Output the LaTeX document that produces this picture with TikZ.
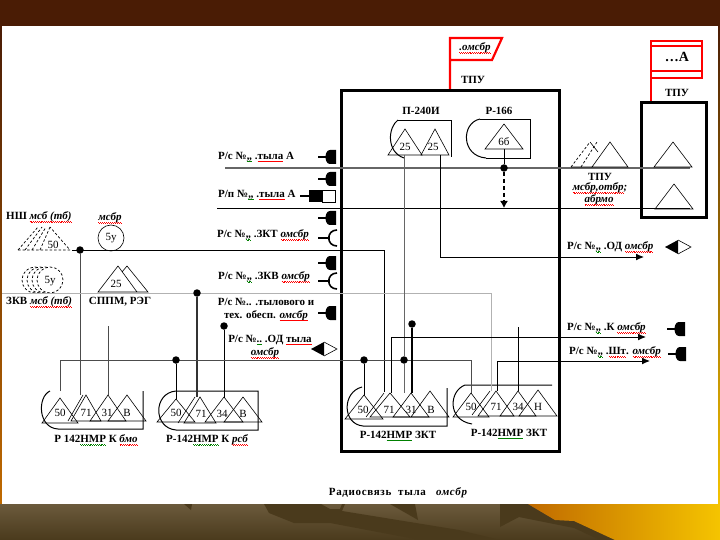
\documentclass[tikz,border=0pt]{standalone}
\usepackage{fontspec}
\setmainfont{Liberation Serif}
\usetikzlibrary{arrows.meta}
\definecolor{bandbrown}{HTML}{4A1C05}
\definecolor{darkolive}{HTML}{4A3A1C}
\definecolor{liteolive}{HTML}{6B5A3C}
\definecolor{goldlo}{HTML}{C06A00}
\definecolor{goldhi}{HTML}{F5C400}
\newcommand{\wav}[2]{\leavevmode\sbox0{#2}\rlap{\usebox0}\hbox to\wd0{\color{#1}\xleaders\hbox{\rule[-1.6pt]{0.9pt}{0.45pt}\rule[-2.2pt]{0.9pt}{0.45pt}}\hfill}}
\newcommand{\rw}[1]{\wav{red}{#1}}
\newcommand{\gw}[1]{\wav{green!50!black}{#1}}
\tikzset{
 lab/.style={font=\fontsize{11}{13}\selectfont\bfseries,inner sep=0pt,align=center},
 num/.style={font=\fontsize{11}{12}\selectfont,inner sep=0pt},
 dotn/.style={circle,fill=black,inner sep=0pt,minimum size=7.5pt},
 wire/.style={line width=1pt},
 pale/.style={line width=0.8pt,gray!60},
 ant/.style={line width=0.6pt},
 dsh/.style={line width=0.7pt,dash pattern=on 2.5pt off 2pt},
 arr/.style={-{Latex[length=8pt,width=7pt]},line width=1pt},
 phone/.pic={\draw[line width=1.3pt] (-9,0)--(-1,0);
  \fill (9,-7)--(3,-7) .. controls (-3,-7) and (-3,7) .. (3,7)--(9,7)--cycle;},
 jack/.pic={\draw[line width=1.3pt] (-11,0)--(1,0);
  \draw[line width=1.6pt] (8,-8) .. controls (-3,-8) and (-3,8) .. (8,8);},
 keyb/.pic={\draw[line width=1.3pt] (-9,0)--(0,0);
  \fill (0,-6) rectangle (13,6); \draw[line width=0.7pt] (13,-6) rectangle (26,6);},
 rombn/.pic={\fill (-13,0)--(0,-7)--(0,7)--cycle;
  \draw[line width=0.6pt] (0,-7)--(13,0)--(0,7);}
}
\newcommand{\tri}[4]{\draw[ant] (#1,#2)--(#3,#4)--(2*#1-#3,#4)--cycle;}
\begin{document}
\begin{tikzpicture}[x=1pt,y=-1pt]
\useasboundingbox (0,0) rectangle (720,540);
% background
\fill[bandbrown] (0,0) rectangle (720,26);
\shade[top color=bandbrown,bottom color=goldlo] (0,26) rectangle (2,504);
\shade[top color=bandbrown,bottom color=goldhi] (718,26) rectangle (720,504);
\shade[top color=liteolive,bottom color=darkolive] (0,504) rectangle (720,540);
\fill[darkolive] (184,504)--(192,504)--(191,510)--cycle;
\fill[darkolive] (264,504)--(321,504)--(330,509)--(340,509)--(342,504)--(345,504)--(342,511)--(459,530)--(500,540)--(420,540)--(330,523)--(294,523)--(269,513)--cycle;
\fill[darkolive] (390,504)--(415,504)--(418,520)--cycle;
\fill[darkolive] (500,504)--(528,504)--(555,520)--(574,521)--(615,540)--(600,540)--(574,528)--(519,517)--(500,527)--cycle;
\shade[left color=goldlo,right color=goldhi] (528,504)--(720,504)--(720,540)--(615,540)--(574,521)--(555,520)--cycle;
\fill[white] (2,26) rectangle (718,504);

% flags
\coordinate (flagA) at (450,38); \coordinate (flagAb) at (450,91);
\coordinate (flagB) at (651,41); \coordinate (flagBb) at (651,103);
\draw[red,line width=2.2pt] (flagAb)--(flagA)--(502,38)--(492,60)--(450,60);
\draw[red,line width=2.2pt] (flagBb)--(flagB)--(702,41)--(702,78)--(651,78) (651,46)--(702,46) (651,71)--(702,71);
\node[lab] (fa) at (475,48) {\itshape\rw{.омсбр}};
\node[lab] (fb) at (677,57) {\fontsize{14}{15}\selectfont …А};
\node[lab] (tpua) at (473,80) {ТПУ};
\node[lab] (tpub) at (677,93) {ТПУ};

% main boxes
\draw[line width=3pt] (341,91) rectangle (559,451);
\draw[line width=3pt] (641,103) rectangle (706,218);
\node[lab] (p240) at (421,111) {П-240И};
\node[lab] (r166) at (499,111) {Р-166};

% stations at the top of the box
\draw[line width=0.8pt] (398,120)--(451,120)--(451,157);
\draw[line width=1pt] (398,120) .. controls (388,127) and (386,152) .. (404,158);
\tri{405}{129}{388}{155}
\tri{435}{129}{421}{155}
\node[num] (s25a) at (405,147) {25};
\node[num] (s25b) at (433,147) {25};
\draw[line width=0.8pt] (480,119)--(530,119)--(530,158)--(486,158);
\draw[line width=1pt] (480,119) .. controls (461,123) and (461,156) .. (486,158);
\tri{504}{124}{485}{149}
\node[num] (s66) at (504,142) {6б};

% long horizontal lines
\coordinate (h1a) at (225,168); \coordinate (h1b) at (690,168);
\coordinate (h2a) at (217,209); \coordinate (h2b) at (690,209);
\draw[line width=1.1pt,black!60] (h1a)--(h1b);
\draw[wire] (h2a)--(h2b);
\node[dotn] (drop) at (504,168) {};
\coordinate (rtop) at (504,149); \coordinate (rend) at (504,208);
\draw[wire] (rtop)--(drop);
\draw[line width=1.3pt,dash pattern=on 4pt off 3pt,-{Latex[length=7pt,width=8pt]}] (drop)--(rend);

% left group
\foreach \xa/\xb in {18/38,25/42,32/46,40/50} \draw[dsh] (\xa,250)--(\xb,227);
\draw[dsh] (18,250)--(70,250)--(50,227);
\node[num] (n50) at (53,245) {50};
\node[draw,circle,line width=0.6pt,minimum size=26pt,inner sep=0pt,font=\fontsize{11}{12}\selectfont] (c5a) at (111,238) {5у};
\foreach \xc in {35,40,45,50} \draw[dsh,fill=white] (\xc,280) circle[radius=13pt];
\node[num] (n5b) at (50,281) {5у};
\draw[ant] (98,292)--(118,266)--(137,292)--cycle (122,272)--(127,266)--(148,292)--(137,292);
\node[num] (n25) at (116,284) {25};
\node[lab,anchor=west] (nsh) at (6,217) {НШ \itshape\rw{мсб (тб)}};
\node[lab] (omsb) at (110,218) {\itshape\rw{мсбр}};
\node[lab,anchor=west] (zkv) at (6,302) {ЗКВ \itshape\rw{мсб (тб)}};
\node[lab] (sppm) at (120,302) {СППМ, РЭГ};

% left labels and sets
\node[lab,anchor=west] (l1) at (218,157) {Р/с №\gw{,,} .\rw{тыла} А};
\pic at (327,157) {phone};
\pic at (327,179) {phone};
\node[lab,anchor=west] (l2) at (218,195) {Р/п №\gw{,,} .\rw{тыла} А};
\pic at (309,196) {keyb};
\pic at (327,218) {phone};
\node[lab,anchor=west] (l3) at (217,235) {Р/с №\gw{,,} .ЗКТ \itshape\rw{омсбр}};
\pic at (329,238) {jack};
\pic at (327,263) {phone};
\node[lab,anchor=west] (l4) at (218,277) {Р/с №\gw{,,} .ЗКВ \itshape\rw{омсбр}};
\pic at (329,281) {jack};
\node[lab] (l5) at (266,309.5) {Р/с №.. .тылового и\\тех. обесп. \itshape\rw{омсбр}};
\pic at (327,313) {phone};
\node[lab] (l6a) at (270,340) {Р/с №\gw{..} .ОД \rw{тыла}};
\node[lab] (l6b) at (265,353) {\itshape\rw{омсбр}};
\pic at (324,349) {rombn};

% middle triangles
\draw[dsh] (571,167)--(590,142) (581,167)--(597,142);
\draw[ant] (571,167)--(592,167) (590,142)--(598,152);
\tri{610}{142}{592}{167}
\node[lab] (tpuc) at (600,177) {ТПУ};
\node[lab] (mcbr) at (600,188) {\itshape\rw{мсбр,отбр};};
\node[lab] (abrm) at (599,200) {\itshape\rw{абрмо}};
\tri{673}{142}{654}{167}
\tri{674}{184}{655}{209}

% right labels
\node[lab,anchor=west] (r1) at (567,247) {Р/с №\gw{,,} .ОД \itshape\rw{омсбр}};
\pic at (678,247) {rombn};
\node[lab,anchor=west] (r2) at (567,328) {Р/с №\gw{,,} .К \itshape\rw{омсбр}};
\pic at (676,329) {phone};
\node[lab,anchor=west] (r3) at (569,352) {Р/с №\gw{,,} .\rw{Шт}. \itshape\rw{омсбр}};
\pic at (677,354) {phone};

% radio sets in the lower row
\draw[line width=1pt] (50,391) .. controls (37,397) and (38,428) .. (58,429)--(143,429)--(143,391);
\tri{60}{398}{42}{423}
\draw[ant] (68,421)--(83,395);
\tri{86}{395}{71}{421}
\tri{108}{395}{90}{421}
\tri{127}{395}{108}{421}
\node[num] (a50) at (60,413) {50};
\node[num] (a71) at (86,413) {71};
\node[num] (a31) at (107,413) {31};
\node[num] (ab) at (127,413) {В};
\node[lab] (capa) at (96,440) {Р 142\gw{НМР} К \itshape\rw{бмо}};

\draw[line width=1pt] (176,391) .. controls (153,393) and (153,428) .. (176,430)--(258,430)--(258,391)--cycle;
\tri{176}{399}{157}{422}
\draw[ant] (178,423)--(195,397);
\tri{200}{397}{184}{423}
\tri{224}{397}{205}{422}
\tri{243}{397}{224}{422}
\node[num] (b50) at (176,413) {50};
\node[num] (b71) at (201,414) {71};
\node[num] (b34) at (222,414) {34};
\node[num] (bb) at (243,414) {В};
\node[lab] (capb) at (207,440) {Р-142\gw{НМР} К \itshape\rw{рсб}};

\draw[line width=1pt] (362,387) .. controls (342,392) and (342,424) .. (363,426)--(447,426)--(447,388);
\tri{364}{395}{345}{419}
\draw[ant] (366,417)--(384,393);
\tri{390}{393}{370}{417}
\tri{411}{393}{393}{417}
\tri{430}{391}{411}{417}
\node[num] (c50) at (363,410) {50};
\node[num] (c71) at (389,410) {71};
\node[num] (c31) at (411,410) {31};
\node[num] (cb) at (431,410) {В};
\node[lab] (capc) at (398,436) {Р-142\gw{НМР} ЗКТ};

\draw[line width=1pt] (552,385)--(465,385) .. controls (449,391) and (447,420) .. (472,424);
\tri{471}{393}{453}{417}
\draw[ant] (472,415)--(490,391);
\tri{496}{391}{478}{416}
\tri{518}{391}{500}{416}
\tri{538}{390}{519}{416}
\node[num] (e50) at (471,407) {50};
\node[num] (e71) at (496,407) {71};
\node[num] (e34) at (518,407) {34};
\node[num] (eb) at (538,407) {Н};
\node[lab] (cape) at (509,434) {Р-142\gw{НМР} ЗКТ};

% bus lines and drops
\node[dotn] (busa) at (80,250) {};
\coordinate (busaL) at (72,250); \coordinate (busaR) at (384,250); \coordinate (busaD) at (384,392);
\coordinate (busaT) at (80,395);
\draw[wire] (busaL)--(busaR)--(busaD);
\draw[wire,black!70] (busa)--(busaT);
\coordinate (busbL) at (2,293); \coordinate (busbR) at (491,293); \coordinate (busbD) at (491,391);
\draw[pale] (busbL)--(busbR)--(busbD);
\node[dotn] (busb) at (197,293) {};
\coordinate (busbT) at (197,397);
\draw[line width=1.3pt,black!80] (busb)--(busbT);
\node[dotn] (busc) at (224,326) {};
\coordinate (buscT) at (224,398);
\draw[wire] (busc)--(buscT);
\coordinate (t31a) at (108,326); \coordinate (t31b) at (108,395);
\draw[wire,black!70] (t31a)--(t31b);
\coordinate (buseL) at (60,391); \coordinate (buseM) at (60,360); \coordinate (buseR) at (471,360); \coordinate (buseD) at (471,393);
\draw[line width=1pt,black!70] (buseL)--(buseM)--(buseR)--(buseD);
\node[dotn] (dote) at (176,360) {};
\coordinate (doteT) at (176,399);
\draw[wire] (dote)--(doteT);
\node[dotn] (dotf) at (364,360) {};
\coordinate (dotfT) at (364,395);
\draw[wire] (dotf)--(dotfT);
\node[dotn] (dotg) at (404,360) {};
\coordinate (p25a) at (404,155);
\draw[wire,black!60] (p25a)--(dotg);
\coordinate (dotgT) at (404,393);
\draw[wire,black!60] (dotg)--(dotgT);
\coordinate (p25b) at (440,155); \coordinate (p25e) at (644,257);
\draw[arr] (p25b)|-(p25e);
\node[dotn] (doth) at (412,324) {};
\coordinate (dothT) at (412,393);
\draw[line width=1.3pt] (doth)--(dothT);
\coordinate (t71c) at (391,393); \coordinate (t71e) at (646,337);
\draw[arr] (t71c)|-(t71e);
\coordinate (t71d) at (497,391); \coordinate (t71f) at (650,361);
\draw[arr] (t71d)|-(t71f);
\coordinate (t34a) at (518,327); \coordinate (t34b) at (518,391);
\draw[line width=0.7pt] (t34a)--(t34b);

\node[lab] (title) at (398,493) {\addfontfeature{LetterSpace=6}Радиосвязь\ \ тыла\ \ \ \itshape омсбр};
\end{tikzpicture}
\end{document}
